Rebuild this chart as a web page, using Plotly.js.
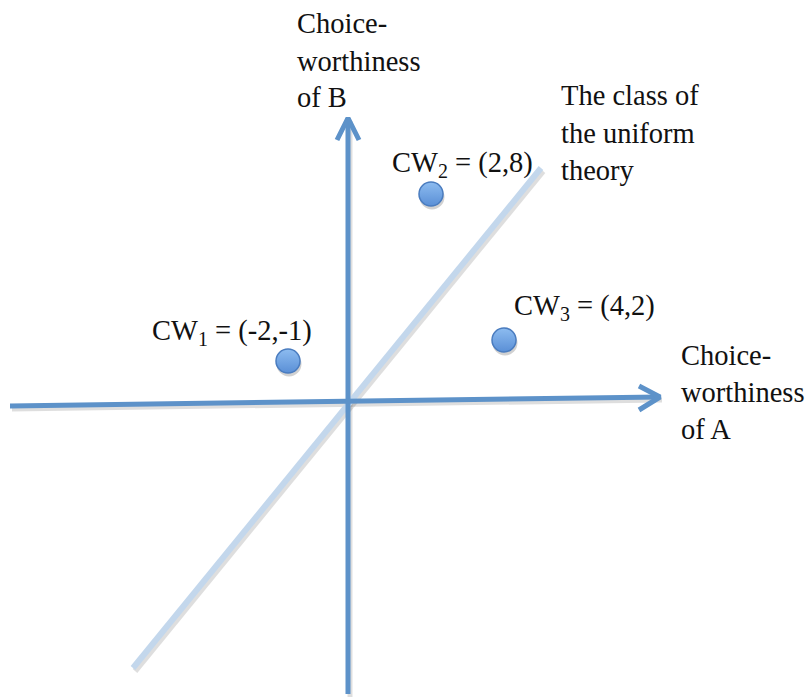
<!DOCTYPE html>
<html>
<head>
<meta charset="utf-8">
<script src="https://cdn.plot.ly/plotly-3.0.1.min.js"></script>
<style>
  html, body { margin: 0; padding: 0; background: #fff; }
  #chart { width: 805px; height: 698px; }
</style>
</head>
<body>
<div id="chart"></div>
<script>
// diagram coordinates, origin where the two axes cross (y up)
const axisA_x = [-338, 312];
const axisA_y = [-4, 5];
const axisB_x = [0, 0];
const axisB_y = [-292, 284];
const uniform_x = [-215, 193];
const uniform_y = [-266, 234];

// chevron heads at the end of each axis
const headA_x = [291, 312, 291];
const headA_y = [16, 5, -8];
const headB_x = [-11, 0, 11];
const headB_y = [262, 284, 262];

// the three options (placed as drawn, labels give their values)
const point_x = [-60, 83, 156];
const point_y = [41, 208, 62];
const point_labels = ['CW<sub>1</sub> = (-2,-1)', 'CW<sub>2</sub> = (2,8)', 'CW<sub>3</sub> = (4,2)'];
const label_x = [-198, 42, 164];
const label_y = [70, 238, 95];

const titleB = ['Choice-', 'worthiness', 'of B'];
const titleB_y = [379, 341, 305];
const titleA = ['Choice-', 'worthiness', 'of A'];
const titleA_y = [47, 10, -27];
const uniformText = ['The class of', 'the uniform', 'theory'];
const uniformText_y = [307, 269, 232];

const axisBlue = '#5d92c9';
const shadow = 'rgba(0,0,0,0.13)';

function shifted(arr, d) { return arr.map(v => v + d); }

function lineTrace(xs, ys, color, width) {
    return {x: xs, y: ys, mode: 'lines', type: 'scatter', hoverinfo: 'skip',
            line: {color: color, width: width, shape: 'linear'}, showlegend: false};
}

var traces = [
    // soft shadows
    lineTrace(shifted(uniform_x, 2), shifted(uniform_y, -3), shadow, 6),
    lineTrace(shifted(axisB_x, 2), shifted(axisB_y, -3), shadow, 5),
    lineTrace(shifted(axisA_x, 2), shifted(axisA_y, -3), shadow, 5),
    lineTrace(uniform_x, uniform_y, '#c3d7ec', 6),
    lineTrace(axisB_x, axisB_y, axisBlue, 5),
    lineTrace(axisA_x, axisA_y, axisBlue, 5),
    lineTrace(headA_x, headA_y, axisBlue, 5),
    lineTrace(headB_x, headB_y, axisBlue, 5),
    {x: shifted(point_x, 1), y: shifted(point_y, -3), mode: 'markers', type: 'scatter',
     hoverinfo: 'skip', showlegend: false,
     marker: {size: 25, color: 'rgba(0,0,0,0.18)', line: {width: 0}}},
    {x: point_x, y: point_y, mode: 'markers', type: 'scatter', hoverinfo: 'skip',
     showlegend: false,
     marker: {size: 24, color: '#8dbcf0', gradient: {type: 'vertical', color: '#5a8fd6'},
              line: {color: '#4a7cbf', width: 1.5}}}
];

var font = {family: '"Liberation Serif", "DejaVu Serif", serif', size: 28.5, color: '#111'};
var annotations = [];
function addText(text, x, y) {
    annotations.push({x: x, y: y, text: text, showarrow: false, xanchor: 'left',
                      yanchor: 'middle', font: font});
}
titleB.forEach((t, i) => addText(t, -53, titleB_y[i]));
titleA.forEach((t, i) => addText(t, 331, titleA_y[i]));
uniformText.forEach((t, i) => addText(t, 211, uniformText_y[i]));
point_labels.forEach((t, i) => addText(t, label_x[i], label_y[i]));

var layout = {
    width: 805, height: 698,
    margin: {l: 0, r: 0, t: 0, b: 0},
    paper_bgcolor: '#fff', plot_bgcolor: '#fff',
    xaxis: {range: [-348, 457], visible: false, fixedrange: true},
    yaxis: {range: [-296, 402], visible: false, fixedrange: true},
    annotations: annotations,
    showlegend: false
};

Plotly.newPlot('chart', traces, layout, {staticPlot: true});
</script>
</body>
</html>
